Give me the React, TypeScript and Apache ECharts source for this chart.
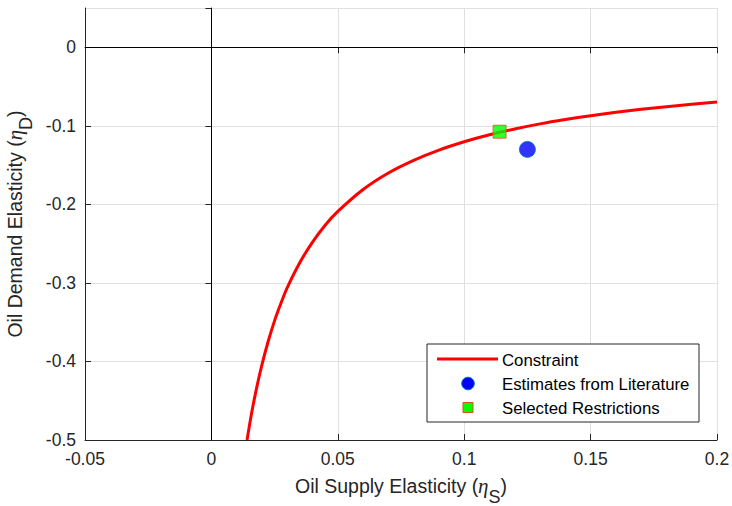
import React, { useEffect, useRef } from "react";
import * as echarts from "echarts";

// Constraint curve: supply elasticity (x) and demand elasticity (y)
const constraintX = [0.0141, 0.016, 0.018, 0.02, 0.0225, 0.025, 0.0275, 0.03, 0.035, 0.04, 0.045, 0.05, 0.06, 0.07, 0.08, 0.09, 0.1, 0.11, 0.12, 0.13, 0.14, 0.15, 0.16, 0.17, 0.18, 0.19, 0.2];
const constraintY = [-0.5, -0.464, -0.432, -0.404, -0.374, -0.348, -0.326, -0.306, -0.274, -0.248, -0.2265, -0.209, -0.181, -0.16, -0.1439, -0.1309, -0.1203, -0.1114, -0.104, -0.0975, -0.092, -0.0871, -0.0828, -0.079, -0.0756, -0.0725, -0.0697];

const literatureEstimates = [[0.125, -0.13]];
const selectedRestrictions = [[0.114, -0.1075]];

const seriesNames = ["Constraint", "Estimates from Literature", "Selected Restrictions"];

const xMin = -0.05, xMax = 0.2, xStep = 0.05;
const yMin = -0.5, yMax = 0.05, yStep = 0.1;

const FONT = "Liberation Sans, Arial, Helvetica, sans-serif";
const AX = "#262626";

export default function App() {
  const ref = useRef<HTMLDivElement>(null);
  useEffect(() => {
    if (!ref.current) return;
    const chart = echarts.init(ref.current, null, { renderer: "svg" });
    const curve = constraintX.map((x, i) => [x, constraintY[i]]);
    const nameRich = {
      eta: { fontFamily: "Liberation Serif, DejaVu Serif, serif", fontStyle: "italic", fontSize: 21, color: AX },
      sub: { fontFamily: FONT, fontSize: 18, color: AX, padding: [22, 0, 0, 0] },
      p: { fontFamily: FONT, fontSize: 19.5, color: AX },
    };
    const mirrorAxis = {
      axisLine: { show: true, lineStyle: { color: AX, width: 1 } },
      axisTick: { show: true, inside: true, length: 6, lineStyle: { color: AX } },
      axisLabel: { show: false },
      splitLine: { show: false },
    };
    const lx = 427, ly = 344;
    const legendFont = `16.8px ${FONT}`;
    chart.setOption({
      animation: false,
      backgroundColor: "#ffffff",
      grid: { left: 85, right: 15, top: 8, bottom: 66, containLabel: false, outerBoundsMode: "none" },
      xAxis: [
        {
          type: "value", min: xMin, max: xMax, interval: xStep, position: "bottom",
          name: "{p|Oil Supply Elasticity (}{eta|η}{sub|S}{p|)}",
          nameLocation: "middle", nameGap: 26,
          nameTextStyle: { fontFamily: FONT, fontSize: 19.5, color: AX, rich: nameRich },
          axisLine: { show: true, onZero: false, lineStyle: { color: AX, width: 1 } },
          axisTick: { show: true, inside: true, length: 6, lineStyle: { color: AX } },
          axisLabel: { fontFamily: FONT, fontSize: 17.5, color: AX, margin: 10 },
          splitLine: { show: true, lineStyle: { color: "#e0e0e0", width: 1 } },
        },
        { type: "value", min: xMin, max: xMax, interval: xStep, position: "top", ...mirrorAxis },
      ],
      yAxis: [
        {
          type: "value", min: yMin, max: yMax, interval: yStep, position: "left",
          name: "{p|Oil Demand Elasticity (}{eta|η}{sub|D}{p|)}",
          nameLocation: "middle", nameGap: 47,
          nameTextStyle: { fontFamily: FONT, fontSize: 19.5, color: AX, rich: nameRich },
          axisLine: { show: true, onZero: false, lineStyle: { color: AX, width: 1 } },
          axisTick: { show: true, inside: true, length: 6, lineStyle: { color: AX } },
          axisLabel: { fontFamily: FONT, fontSize: 17.5, color: AX, margin: 9, showMaxLabel: false },
          splitLine: { show: true, lineStyle: { color: "#e0e0e0", width: 1 } },
        },
        { type: "value", min: yMin, max: yMax, interval: yStep, position: "right", ...mirrorAxis },
      ],
      series: [
        {
          name: seriesNames[0], type: "line", data: curve, smooth: 0.3, showSymbol: false,
          lineStyle: { color: "#ff0000", width: 3 }, z: 3,
          markLine: {
            silent: true, symbol: ["none", "none"], label: { show: false },
            lineStyle: { color: "#000000", width: 1, type: "solid" },
            data: [{ xAxis: 0 }, { yAxis: 0 }], z: 1,
          },
        },
        {
          name: seriesNames[1], type: "scatter", data: literatureEstimates, symbol: "circle", symbolSize: 16,
          itemStyle: { color: "#0000ff", borderColor: "#0072bd", borderWidth: 1 }, z: 4,
        },
        {
          name: seriesNames[2], type: "scatter", data: selectedRestrictions, symbol: "rect", symbolSize: 13,
          itemStyle: { color: "#00ff00", borderColor: "#d95319", borderWidth: 1 }, z: 5,
        },
      ],
      graphic: [
        { type: "rect", shape: { x: lx, y: ly, width: 272, height: 78 }, style: { fill: "#ffffff", stroke: AX, lineWidth: 1 }, z: 10 },
        { type: "line", shape: { x1: 437, y1: 359, x2: 498, y2: 359 }, style: { stroke: "#ff0000", lineWidth: 3 }, z: 11 },
        { type: "circle", shape: { cx: 468, cy: 383.5, r: 6.3 }, style: { fill: "#0000ff", stroke: "#0072bd", lineWidth: 1 }, z: 11 },
        { type: "rect", shape: { x: 463, y: 402.5, width: 10, height: 10 }, style: { fill: "#00ff00", stroke: "#d95319", lineWidth: 1 }, z: 11 },
        { type: "text", x: 502, y: 360, style: { text: seriesNames[0], font: legendFont, fill: "#000000", verticalAlign: "middle" }, z: 11 },
        { type: "text", x: 502, y: 384, style: { text: seriesNames[1], font: legendFont, fill: "#000000", verticalAlign: "middle" }, z: 11 },
        { type: "text", x: 502, y: 408, style: { text: seriesNames[2], font: legendFont, fill: "#000000", verticalAlign: "middle" }, z: 11 },
      ],
    });
    return () => chart.dispose();
  }, []);
  return <div ref={ref} style={{ position: "fixed", left: 0, top: 0, width: 732, height: 506 }} />;
}
